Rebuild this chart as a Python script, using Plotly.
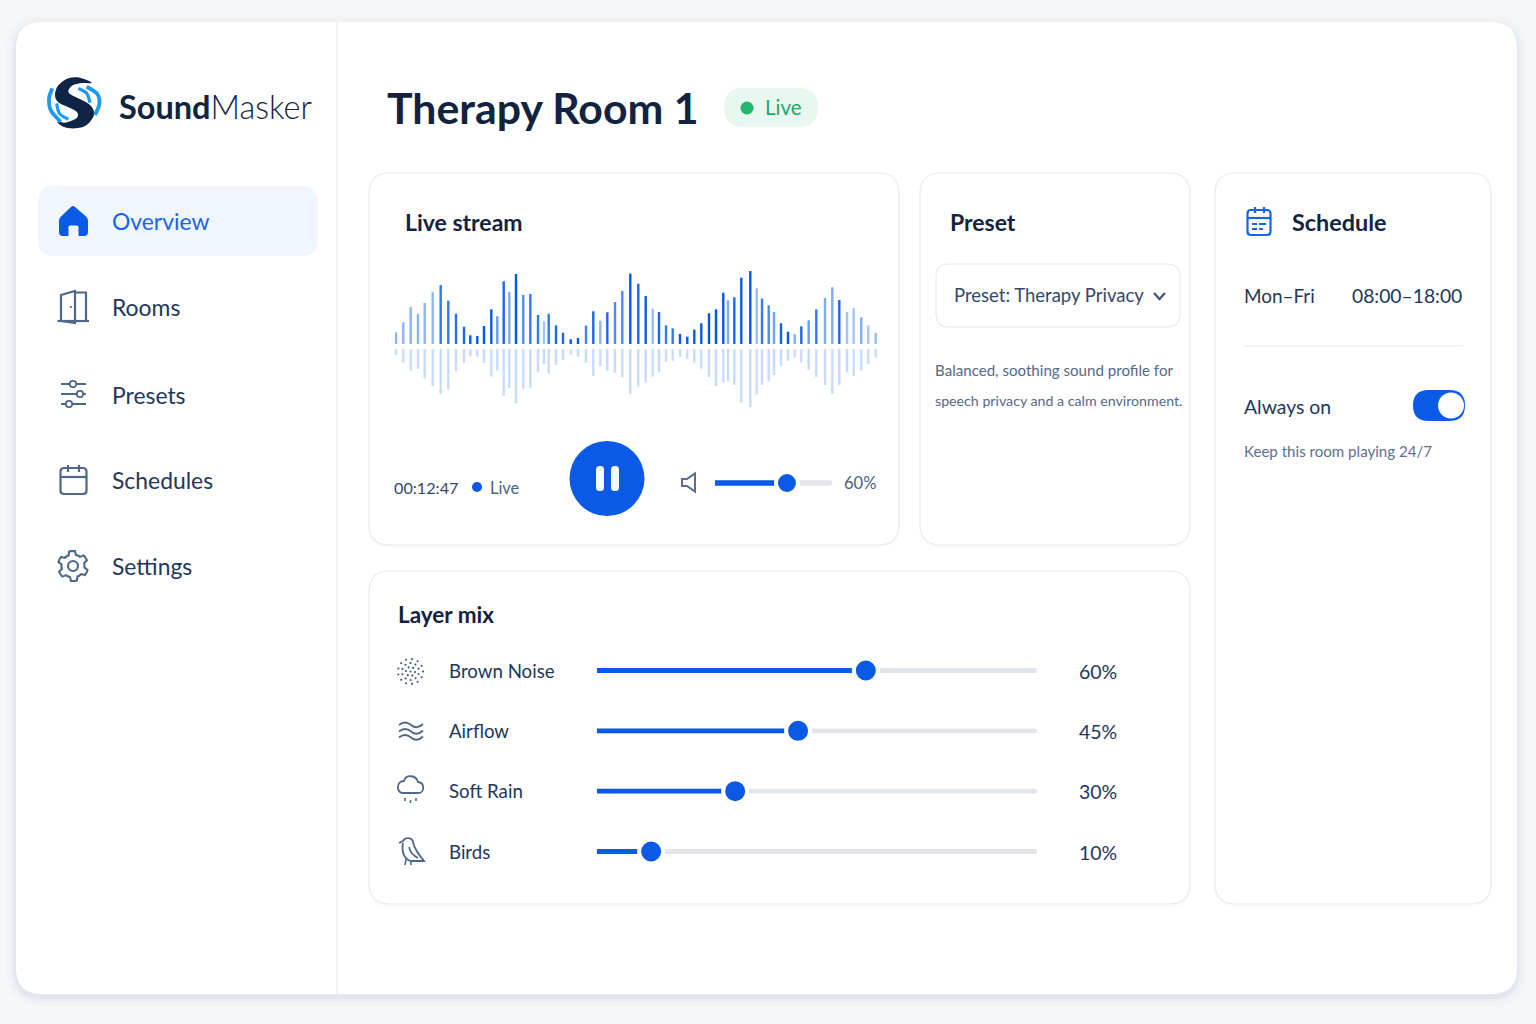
import numpy as np
import plotly.graph_objects as go

W, H = 1536, 1024
FONT = "Lato"

# ---------- data ----------
wave_t = [1,8.3,15.7,23,29.7,37.7,45.7,53.3,61,69,75.3,82.3,89,96.3,102.3,108.7,114.3,121,128.3,135.3,143,149,153.7,161,168,175.7,183,191,198.3,205.3,212.3,220,227.3,235.3,
          243.3,250.7,257.7,264,271,277.7,285,292.3,299.3,306.3,314,321,328.3,333,339.3,346.3,355.3,361.7,367,373.7,379,386,393,399.7,406.3,413.7,421.3,430,437.3,444.3,452,458.7,466.3,473.3,480.7]
wave_top = [11.7,21.7,37,30.3,41,51.7,59,43.3,30.3,17.3,8.7,8,18,34.7,27.7,62.7,52,70,49,50,29,22.7,30.3,18.7,11.3,4.7,6,18.3,32.7,23.3,31.7,42,53,70.3,
            60.3,48,35.3,32,18.7,15.7,10,7.3,14.3,20.7,30.7,34.7,51.3,43.7,46.7,66.3,73,55.7,45.3,38.7,32,20.7,12.3,9.7,17.7,23.7,34.7,46,56.7,44,32,36,26.7,18.7,11.3]
wave_bottom = [6,13.7,21.3,20,29.3,37,44.7,40,22.3,14,7,7.7,13.7,27.7,21.3,47,39,54.3,39.7,38.7,23.3,15.3,24.7,16,10.7,5.3,7.7,13.7,27,17,21.7,23.7,28.3,44.7,
               37.7,33.7,27.7,23.3,12.7,11.7,7.7,9.7,13.7,19.7,28.3,37,33.7,32.3,36,53.7,58,45.3,36,32.3,26,17,11.7,8.7,13.3,20.7,28,36,44.7,36.3,23.3,27,21.3,14.7,8.7]
wave_strength = [.45,.45,.45,.45,.45,.45,.8,.8,.85,.9,1,1,1,1,.6,.9,.5,1,.7,.8,.8,.35,.8,.9,.9,1,1,.75,.9,.45,.9,.7,.7,1,
                 .9,1,.4,.9,.8,.8,1,1,1,1,1,1,1,.5,.9,1,1,.4,.8,.7,.55,.95,1,.5,.9,.6,.8,.5,.5,.9,.35,.35,.5,.35,.4]

layers = ["Brown Noise", "Airflow", "Soft Rain", "Birds"]
layer_labels = ["60%", "45%", "30%", "10%"]
layer_level = [61.1, 45.7, 31.4, 12.3]     # thumb position read along each track
volume_level = [61.5]
volume_label = "60%"

nav_items = ["Overview", "Rooms", "Presets", "Schedules", "Settings"]

BLUE = "#0a5ae6"
NAVY = "#12233f"
INK = "#22375a"
MUTED = "#5d7090"
ICON = "#4f6789"
LINE = "#e7eaf1"
TRACK = "#e1e5ec"

# ---------- helpers ----------
shapes = []
annots = []


def rr_path(x0, y0, x1, y1, r):
    return (f"M{x0+r} {y0} H{x1-r} Q{x1} {y0} {x1} {y0+r} V{y1-r} Q{x1} {y1} {x1-r} {y1} "
            f"H{x0+r} Q{x0} {y1} {x0} {y1-r} V{y0+r} Q{x0} {y0} {x0+r} {y0} Z")


def path(d, fill="rgba(0,0,0,0)", color="rgba(0,0,0,0)", width=0):
    shapes.append(dict(type="path", xref="x", yref="y", path=d, fillcolor=fill,
                       line=dict(color=color, width=width), layer="below"))


def rrect(x0, y0, x1, y1, r, fill, color="rgba(0,0,0,0)", width=0):
    path(rr_path(x0, y0, x1, y1, r), fill, color, width)


def circle(cx, cy, r, fill, color="rgba(0,0,0,0)", width=0):
    shapes.append(dict(type="circle", xref="x", yref="y", x0=cx-r, x1=cx+r, y0=cy-r, y1=cy+r,
                       fillcolor=fill, line=dict(color=color, width=width), layer="below"))


def smooth(pts, closed=False):
    p = list(pts)
    n = len(p)
    get = (lambda i: p[i % n]) if closed else (lambda i: p[max(0, min(n-1, i))])
    d = f"M{p[0][0]:.2f} {p[0][1]:.2f}"
    for i in range(n if closed else n-1):
        a, b, c, e = get(i-1), get(i), get(i+1), get(i+2)
        c1 = (b[0]+(c[0]-a[0])/6, b[1]+(c[1]-a[1])/6)
        c2 = (c[0]-(e[0]-b[0])/6, c[1]-(e[1]-b[1])/6)
        d += f" C{c1[0]:.2f} {c1[1]:.2f} {c2[0]:.2f} {c2[1]:.2f} {c[0]:.2f} {c[1]:.2f}"
    return d + (" Z" if closed else "")


def text(x, y, s, size, color=INK, weight=400, anchor="left"):
    annots.append(dict(xref="x", yref="y", x=x, y=y, text=s, showarrow=False, xanchor=anchor, yanchor="middle",
                       font=dict(family=FONT, size=size, color=color, weight=weight), borderpad=0, borderwidth=0))


def logo_pt(zx, zy):
    return (40+zx/3, 70+zy/3)


# ---------- page chrome ----------
for i, a in zip([10, 7, 4, 2], [.012, .016, .022, .03]):
    rrect(16-i, 22-i+3, 1517+i, 994+i+3, 26+i, f"rgba(40,60,100,{a})")
rrect(16, 22, 1517, 994, 26, "#ffffff")
path("M337 22 V994", color="#eef0f5", width=1.4)

# cards
for (x0, y0, x1, y1) in [(369, 173, 899, 545), (920, 173, 1190, 545), (1215, 173, 1491, 904), (369, 571, 1190, 904)]:
    rrect(x0-1, y0+1, x1+1, y1+3, 22, "rgba(40,60,100,0.018)")
    rrect(x0, y0, x1, y1, 21, "#ffffff", LINE, 1.2)

# logo
navy_s = [(155,38),(120,23),(85,25),(55,46),(45,75),(55,97),(85,112),(110,125),(113,140),(100,150),(75,158),(52,155),
          (70,170),(105,175),(140,165),(162,135),(155,110),(130,92),(100,78),(85,65),(95,48),(120,40)]
path(smooth([logo_pt(*p) for p in navy_s], closed=True), fill="#0e2444")
for arc, w in [([(37,55),(27,85),(33,122),(62,155)], 3.8), ([(50,100),(58,130),(85,148)], 3.2),
               ([(140,50),(172,72),(178,102),(165,135)], 3.8), ([(115,55),(140,70),(150,98)], 3.2)]:
    path(smooth([logo_pt(*p) for p in arc]), color="#1e9bf0", width=w)
text(119, 106, "<b>Sound</b>Masker", 32.5, "#10233f", 300)

# nav
rrect(38, 186, 318, 256, 16, "#f0f5fe")
path("M73 206 Q74 206 75 207 L86 216.5 Q88 218 88 221 V232 Q88 236 84 236 H78.5 V227 Q78.5 225.5 77 225.5 H70 Q68.5 225.5 68.5 227 V236 H63 Q59 236 59 232 V221 Q59 218 61 216.5 L71 207 Q72 206 73 206 Z", fill=BLUE)
nav_y = [221, 307, 395, 480, 566]
for n, y in zip(nav_items, nav_y):
    text(112, y, n, 22.9, "#1565ec" if n == "Overview" else INK)

# rooms icon
path("M57.5 321 H89", color=ICON, width=2.2)
path("M61 321 V295 L75 291 V323 L61 321", color=ICON, width=2.2)
path("M75 292.5 H86 V321", color=ICON, width=2.2)
circle(71, 307, 1.1, ICON)
# presets icon
for y, kx in zip([384, 394, 404], [73, 80, 69]):
    path(f"M61 {y} H86", color=ICON, width=2)
    circle(kx, y, 3.2, "#ffffff", ICON, 1.8)
# schedules icon
rrect(60.5, 468, 86.5, 494, 3.5, "rgba(0,0,0,0)", ICON, 2.2)
path("M60.5 477 H86.5", color=ICON, width=2.2)
path("M68 465 V472 M79 465 V472", color=ICON, width=2.2)
# gear icon
ang = np.linspace(0, 2*np.pi, 49)[:-1] + np.pi/6
rad = [15 if ((i+2) % 8) < 4 else 11.5 for i in range(48)]
gear = [(73+r*np.cos(a), 566+r*np.sin(a)) for a, r in zip(ang, rad)]
path("M" + " L".join(f"{p[0]:.1f} {p[1]:.1f}" for p in gear) + " Z", color=ICON, width=2.1)
circle(73, 566, 5, "rgba(0,0,0,0)", ICON, 2.1)

# title
text(387, 107, "Therapy Room 1", 42.8, NAVY, 700)
rrect(724, 88, 818, 127, 19.5, "#e8f7ef")
circle(747, 108, 6.5, "#1fb86a")
text(765, 107, "Live", 20.5, "#25a768")

# live stream card
text(405, 222, "Live stream", 23, NAVY, 700)
text(394, 487, "00:12:47", 16.2, "#33486a")
circle(477, 487, 5, BLUE)
text(490, 487, "Live", 16.4, "#4a5f80")
circle(607, 478.5, 37.5, BLUE)
rrect(596, 466, 604, 491, 3.5, "#f4f7ff")
rrect(611, 466, 619, 491, 3.5, "#f4f7ff")
path("M682 479 H687 L695 473.5 V491.5 L687 486 H682 Z", color="#5b6f8c", width=2)
text(844, 483, volume_label, 16.5, "#4a5f80")

# preset card
text(950, 222, "Preset", 23, NAVY, 700)
rrect(936, 264, 1180, 327, 13, "#ffffff", "#e6e9f2", 1.2)
text(954, 295, "Preset: Therapy Privacy", 18.5, "#33486a")
path("M1154 293 L1159.5 299 L1165 293", color="#3f557a", width=2.2)
text(935, 370, "Balanced, soothing sound profile for", 15.1, "#55698a")
text(935, 400, "speech privacy and a calm environment.", 14.2, "#55698a")

# schedule card
rrect(1247.5, 210, 1270.5, 235, 3.5, "rgba(0,0,0,0)", "#1565ec", 2.2)
path("M1247.5 218 H1270.5", color="#1565ec", width=2.2)
path("M1255 207 V213 M1264 207 V213", color="#1565ec", width=2.2)
path("M1252 224 H1257 M1259 224 H1266 M1252 229 H1257 M1259 229 H1263", color="#1565ec", width=1.8)
text(1292, 222, "Schedule", 23.4, NAVY, 700)
text(1244, 295, "Mon–Fri", 18.9, "#22375a")
text(1462, 295, "08:00–18:00", 19.3, "#22375a", anchor="right")
path("M1244 346 H1463", color="#eef0f5", width=1.4)
text(1244, 406, "Always on", 19.4, "#22375a")
rrect(1413, 390, 1465, 421, 15.5, BLUE)
circle(1451, 405.5, 13, "#ffffff")
text(1244, 451, "Keep this room playing 24/7", 15.1, "#5d7090")

# layer mix card
text(398, 614, "Layer mix", 22.5, NAVY, 700)
layer_y = [671, 731, 791, 852]
for n, pct, y in zip(layers, layer_labels, layer_y):
    text(449, y, n, 18.7, INK)
    text(1117, y, pct, 19.5, INK, anchor="right")

# layer icons
for r, n, off in [(12.5, 13, 0), (8.5, 10, .3), (4.5, 6, .1)]:
    for a in np.linspace(0, 2*np.pi, n, endpoint=False) + off:
        circle(410.5+r*np.cos(a), 671.5+r*np.sin(a), 1.05, "#3f557a")
circle(410.5, 671.5, 1.05, "#3f557a")
for y in [725, 731.5, 737.5]:
    path(f"M399 {y} Q405 {y-5} 411 {y} Q417 {y+5} 423 {y-1}", color=ICON, width=1.8)
path("M403 793 H418 C425 793 425 783 418 782 C416 775 406 774 404 781 C396 781 396 793 403 793 Z", color=ICON, width=1.8)
path("M405 798 V801 M410.5 800 V803 M416 798 V801", color=ICON, width=1.6)
path("M399 843 L403 841 C405 837 412 837 413 842 C414 848 419 855 424 861 L412 861 C405 861 401 852 403 843", color=ICON, width=1.8)
path("M409 847 C410 852 414 856 418 858", color=ICON, width=1.6)
path("M406 859 L405 865 M411 861 L411 865", color=ICON, width=1.6)


# ---------- axes for the data marks ----------
def dx(a, b):
    return [a/W, b/W]


def dy(top, bottom):
    return [1-bottom/H, 1-top/H]


layout_axes = dict(
    xaxis=dict(domain=[0, 1], range=[0, W], visible=False, fixedrange=True),
    yaxis=dict(domain=[0, 1], range=[H, 0], visible=False, fixedrange=True),
    xaxis2=dict(domain=dx(395, 879), range=[0, 484], visible=False, fixedrange=True, anchor="y2"),
    yaxis2=dict(domain=dy(260, 420), range=[-76, 84], visible=False, fixedrange=True, anchor="x2"),
    xaxis3=dict(domain=dx(597, 1037), range=[0, 100], visible=False, fixedrange=True, anchor="y3"),
    yaxis3=dict(domain=dy(640.3, 881.7), range=[3.5, -0.5], visible=False, fixedrange=True, anchor="x3",
                type="category", categoryorder="array", categoryarray=layers),
    xaxis4=dict(domain=dx(715, 832), range=[0, 100], visible=False, fixedrange=True, anchor="y4"),
    yaxis4=dict(domain=dy(463, 503), range=[-1, 1], visible=False, fixedrange=True, anchor="x4"),
)

fig = go.Figure()
fig.add_trace(go.Scatter(x=[0], y=[0], mode="markers", marker=dict(opacity=0), xaxis="x", yaxis="y", hoverinfo="skip", showlegend=False))

# waveform
fig.add_trace(go.Bar(x=wave_t, y=wave_top, width=2.4, xaxis="x2", yaxis="y2", hoverinfo="skip", showlegend=False,
                     marker=dict(color=[f"rgba(0,88,240,{s})" for s in wave_strength], line_width=0)))
fig.add_trace(go.Bar(x=wave_t, y=[-v for v in wave_bottom], base=-5, width=2.4, xaxis="x2", yaxis="y2", hoverinfo="skip", showlegend=False,
                     marker=dict(color="rgba(40,110,240,0.25)", line_width=0)))

# layer sliders
fig.add_trace(go.Bar(x=[100]*4, y=layers, orientation="h", width=0.08, xaxis="x3", yaxis="y3", hoverinfo="skip", showlegend=False,
                     marker=dict(color=TRACK, line_width=0, cornerradius=2.5)))
fig.add_trace(go.Bar(x=layer_level, y=layers, orientation="h", width=0.08, xaxis="x3", yaxis="y3", hoverinfo="skip", showlegend=False,
                     marker=dict(color=BLUE, line_width=0, cornerradius=2.5)))
fig.add_trace(go.Scatter(x=layer_level, y=layers, mode="markers", xaxis="x3", yaxis="y3", hoverinfo="skip", showlegend=False,
                         marker=dict(size=24, color=BLUE, line=dict(color="#ffffff", width=4))))

# volume slider
fig.add_trace(go.Bar(x=[100], y=[0], orientation="h", width=0.27, xaxis="x4", yaxis="y4", hoverinfo="skip", showlegend=False,
                     marker=dict(color=TRACK, line_width=0, cornerradius=2.5)))
fig.add_trace(go.Bar(x=volume_level, y=[0], orientation="h", width=0.27, xaxis="x4", yaxis="y4", hoverinfo="skip", showlegend=False,
                     marker=dict(color=BLUE, line_width=0, cornerradius=2.5)))
fig.add_trace(go.Scatter(x=volume_level, y=[0], mode="markers", xaxis="x4", yaxis="y4", hoverinfo="skip", showlegend=False,
                         marker=dict(size=22, color=BLUE, line=dict(color="#ffffff", width=4))))

fig.update_layout(width=W, height=H, margin=dict(l=0, r=0, t=0, b=0), autosize=False,
                  paper_bgcolor="#f5f7fa", plot_bgcolor="rgba(0,0,0,0)", barmode="overlay",
                  showlegend=False, shapes=shapes, annotations=annots, hovermode=False, **layout_axes)

fig.write_html("out.html", config=dict(displayModeBar=False, responsive=False),
               post_script="document.body.style.margin='0';document.body.style.background='#f5f7fa';")
